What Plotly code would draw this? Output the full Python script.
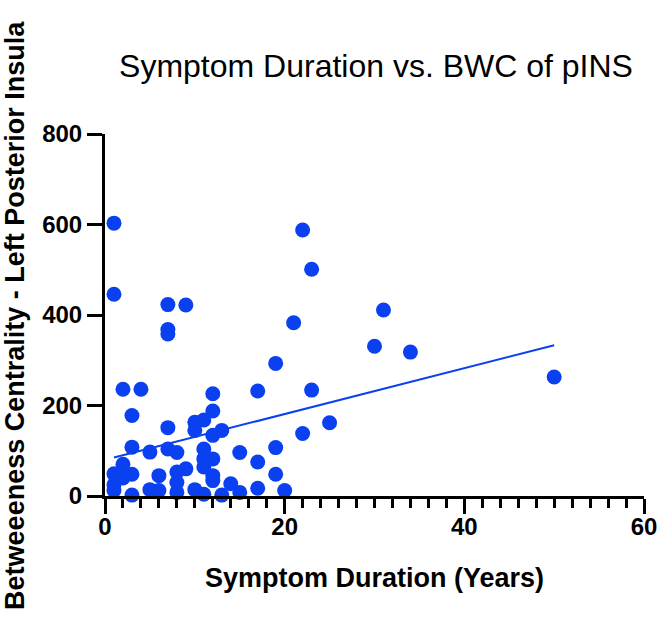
import plotly.graph_objects as go

# Symptom duration (years) and betweenness centrality values
duration = [1, 1, 7, 9, 7, 7, 2, 4, 3, 12, 12, 10, 11, 10, 7, 13, 12, 3, 5, 7,
            8, 11, 11, 12, 15, 17, 19, 19, 17, 21, 22, 22, 23, 31, 30, 34, 23, 50,
            25, 20, 19, 17, 2, 1, 3, 6, 8, 9, 11, 12, 12, 8, 1, 3, 5, 6, 8, 10,
            11, 13, 14, 15, 1, 2]
bwc = [603, 446, 423, 422, 368, 358, 236, 236, 178, 226, 188, 163, 168, 145, 151,
       145, 134, 108, 97, 104, 96, 104, 82, 82, 96, 75, 107, 293, 232, 383, 588,
       138, 501, 411, 331, 318, 234, 263, 162, 12, 48, 17, 70, 49, 48, 45, 53, 60,
       64, 45, 34, 30, 12, 2, 14, 12, 8, 14, 4, 2, 27, 8, 25, 40]

# Linear regression line endpoints
fit_x = [1, 50]
fit_y = [85, 333]

x_ticks = [0, 20, 40, 60]
y_ticks = [0, 200, 400, 600, 800]

BLUE = "#0a40f0"
FONT = "Liberation Sans"

fig = go.Figure()
fig.add_trace(go.Scatter(x=duration, y=bwc, mode="markers",
                         marker=dict(size=15, color=BLUE, line=dict(width=0)),
                         cliponaxis=False, showlegend=False))
fig.add_trace(go.Scatter(x=fit_x, y=fit_y, mode="lines",
                         line=dict(color=BLUE, width=2),
                         cliponaxis=False, showlegend=False))

fig.update_layout(
    width=669, height=630,
    margin=dict(l=105, r=21, t=134, b=134),
    plot_bgcolor="white", paper_bgcolor="white",
    font=dict(family=FONT, color="black"),
    title=dict(text="Symptom Duration vs. BWC of pINS",
               x=376 / 669, xanchor="center", y=1 - 66 / 630, yanchor="middle",
               font=dict(family=FONT, size=32, color="black")),
    xaxis=dict(range=[0, 60], tickvals=x_ticks, ticktext=[str(v) for v in x_ticks],
               showgrid=False, zeroline=False, showline=True, linecolor="black",
               linewidth=3, ticks="outside", ticklen=15, tickwidth=3, tickcolor="black",
               ticklabelstandoff=-8,
               tickfont=dict(family=FONT, size=24, weight="bold", color="black"),
               minor=dict(dtick=2, ticks="outside", ticklen=9, tickwidth=3,
                          tickcolor="black", showgrid=False)),
    yaxis=dict(range=[0, 800], tickvals=y_ticks, ticktext=[str(v) for v in y_ticks],
               showgrid=False, zeroline=False, showline=True, linecolor="black",
               linewidth=3, ticks="outside", ticklen=15, tickwidth=3, tickcolor="black",
               tickfont=dict(family=FONT, size=24, weight="bold", color="black")),
    annotations=[
        dict(text="Symptom Duration (Years)", xref="paper", yref="paper",
             x=(377 - 105) / 543, y=-(577 - 495.5) / 361.5,
             xanchor="center", yanchor="middle", showarrow=False,
             font=dict(family=FONT, size=27, weight="bold", color="black")),
        dict(text="Betweeeness Centrality - Left Posterior Insula", xref="paper",
             yref="paper", x=(15 - 105) / 543, y=(495.5 - 315) / 361.5,
             xanchor="center", yanchor="middle", textangle=-90, showarrow=False,
             font=dict(family=FONT, size=27, weight="bold", color="black")),
    ],
)

fig.write_html("out.html", config={"displayModeBar": False},
               post_script="document.body.style.margin='0';document.body.style.overflow='hidden';")
